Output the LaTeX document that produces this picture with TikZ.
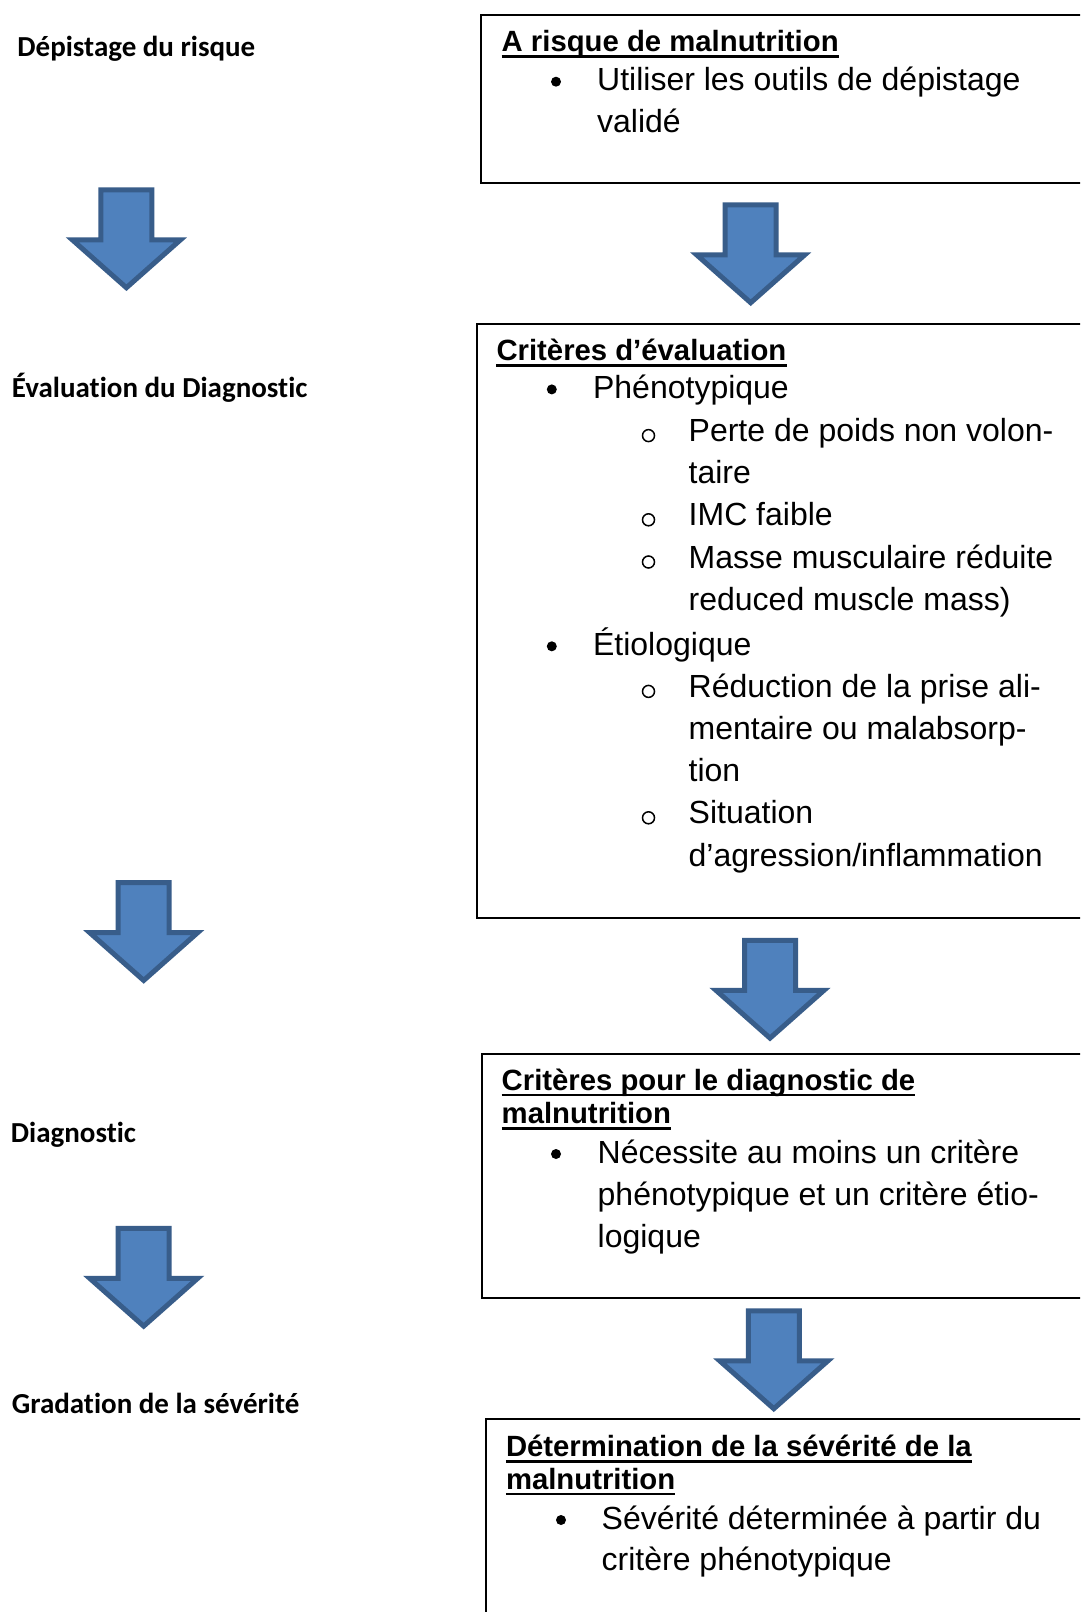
\documentclass[tikz,border=0pt]{standalone}
\usepackage{fontspec}
\setmainfont{Liberation Sans}
\newfontfamily\lblfont[Ligatures=NoCommon]{Carlito}
\definecolor{flechefond}{HTML}{4F81BD}
\definecolor{flechetrait}{HTML}{385D8A}
\newcommand{\fleche}[2]{%
  \draw[bloc, shift={(#1,#2)}] (-25.5,2.6) -- (25.5,2.6) -- (25.5,52.6) -- (54,52.6)
      -- (0,100.4) -- (-54,52.6) -- (-25.5,52.6) -- cycle;}

\begin{document}
\begin{tikzpicture}[x=1pt, y=-1pt,
    lbl/.style={anchor=base west, inner sep=0, font=\lblfont\fontsize{29}{34}\selectfont\bfseries},
    hd/.style={anchor=base west, inner sep=0, font=\fontsize{29.3}{34}\selectfont\bfseries},
    txt/.style={anchor=base west, inner sep=0, font=\fontsize{32}{38}\selectfont},
    sub/.style={circle, draw, line width=1.5, inner sep=0, minimum size=12},
    dot/.style={circle, fill, inner sep=0, minimum size=10},
    box/.style={draw, line width=2, anchor=north west, inner sep=0},
    ul/.style={line width=2.8},
    bloc/.style={fill=flechefond, draw=flechetrait, line width=5, line join=miter}]
    %\draw[help lines, step=100](0,0) grid(1080,1612);
    \fill[white] (0,0) rectangle (1080,1612);
    \useasboundingbox (0,0) rectangle (1080,1612);
    \clip (0,0) rectangle (1080,1612);

    % étapes à gauche
    \node[lbl] (depistage) at (17.2,56.5) {Dépistage du risque};
    \node[lbl] (evaluation) at (11.7,397.3) {Évaluation du Diagnostic};
    \node[lbl] (diagnostic) at (10.7,1142) {Diagnostic};
    \node[lbl] (gradation) at (11.7,1413.3) {Gradation de la sévérité};

    % flèches à gauche
    \fleche{126.4}{187.3}
    \fleche{143.7}{880}
    \fleche{143.7}{1225.7}

    % boîte 1 : risque
    \node[box, minimum width=640, minimum height=168.4] (risque) at (480,14) {};
    \node[hd] (risqueT) at (501.5,51.7) {A risque de malnutrition};
    \draw[ul] ([yshift=-5pt]risqueT.base west) -- ([yshift=-5pt]risqueT.base east);
    \node[dot] (risqueB) at (556,81.7) {};
    \node[txt] (risque1) at (597,90.7) {Utiliser les outils de dépistage};
    \node[txt] (risque2) at (597,132.5) {validé};

    % boîte 2 : critères d'évaluation
    \node[box, minimum width=640, minimum height=594] (criteres) at (475.8,322.7) {};
    \node[hd] (criteresT) at (496.3,360.4) {Critères d’évaluation};
    \draw[ul] ([yshift=-5pt]criteresT.base west) -- ([yshift=-5pt]criteresT.base east);
    \node[dot] (phenoB) at (551.8,389.4) {};
    \node[txt] (pheno) at (592.9,398.4) {Phénotypique};
    \node[sub] (perteB) at (648.5,435.6) {};
    \node[txt] (perte1) at (688.5,441.6) {Perte de poids non volon-};
    \node[txt] (perte2) at (688.5,483.7) {taire};
    \node[sub] (imcB) at (648.5,519.8) {};
    \node[txt] (imc) at (688.5,525.8) {IMC faible};
    \node[sub] (masseB) at (648.5,562) {};
    \node[txt] (masse1) at (688.5,568) {Masse musculaire réduite};
    \node[txt] (masse2) at (688.5,610.1) {reduced muscle mass)};
    \node[dot] (etioB) at (551.8,646.3) {};
    \node[txt] (etio) at (592.9,655.3) {Étiologique};
    \node[sub] (priseB) at (648.5,691.4) {};
    \node[txt] (prise1) at (688.5,697.4) {Réduction de la prise ali-};
    \node[txt] (prise2) at (688.5,739.6) {mentaire ou malabsorp-};
    \node[txt] (prise3) at (688.5,781.7) {tion};
    \node[sub] (situB) at (648.5,817.8) {};
    \node[txt] (situ1) at (688.5,823.8) {Situation};
    \node[txt] (situ2) at (688.5,866) {d’agression/inflammation};

    % boîte 3 : diagnostic
    \node[box, minimum width=640, minimum height=244.5] (diag) at (481,1052.5) {};
    \node[hd] (diagT1) at (501.5,1090) {Critères pour le diagnostic de};
    \draw[ul] ([yshift=-5pt]diagT1.base west) -- ([yshift=-5pt]diagT1.base east);
    \node[hd] (diagT2) at (501.5,1123.5) {malnutrition};
    \draw[ul] ([yshift=-5pt]diagT2.base west) -- ([yshift=-5pt]diagT2.base east);
    \node[dot] (diagB) at (556,1154) {};
    \node[txt] (diag1) at (597.5,1163) {Nécessite au moins un critère};
    \node[txt] (diag2) at (597.5,1205) {phénotypique et un critère étio-};
    \node[txt] (diag3) at (597.5,1247) {logique};

    % boîte 4 : sévérité
    \node[box, minimum width=640, minimum height=300] (sev) at (485,1417.7) {};
    \node[hd] (sevT1) at (505.8,1456.5) {Détermination de la sévérité de la};
    \draw[ul] ([yshift=-5pt]sevT1.base west) -- ([yshift=-5pt]sevT1.base east);
    \node[hd] (sevT2) at (505.8,1489) {malnutrition};
    \draw[ul] ([yshift=-5pt]sevT2.base west) -- ([yshift=-5pt]sevT2.base east);
    \node[dot] (sevB) at (561,1520) {};
    \node[txt] (sev1) at (601.5,1529) {Sévérité déterminée à partir du};
    \node[txt] (sev2) at (601.5,1570) {critère phénotypique};

    % flèches à droite
    \fleche{750.7}{202.3}
    \fleche{770}{937.7}
    \fleche{773.8}{1308.3}
\end{tikzpicture}
\end{document}
